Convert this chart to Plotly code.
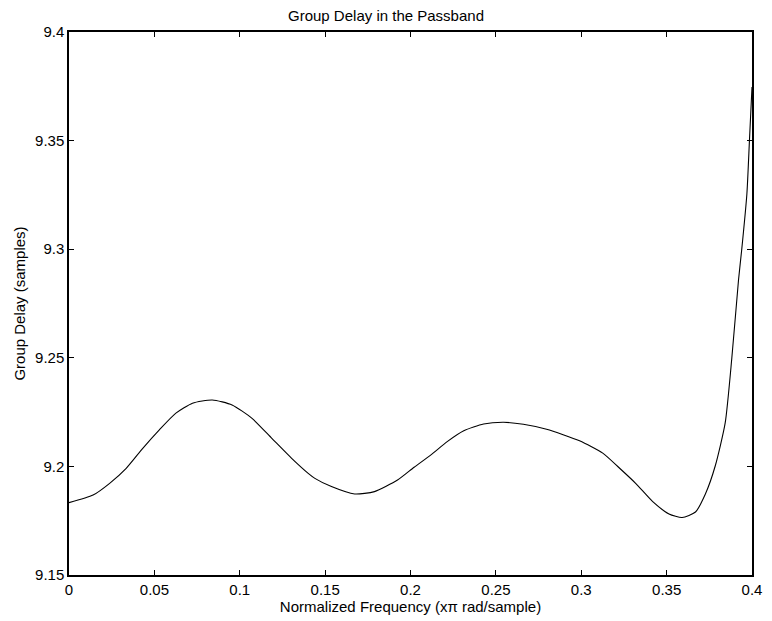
import plotly.graph_objects as go

freq = [0.0, 0.0141, 0.0238, 0.0335, 0.0432, 0.0529, 0.0626, 0.0723, 0.0839, 0.0955,
        0.1072, 0.1188, 0.1304, 0.1401, 0.1440, 0.1537, 0.1673, 0.1789, 0.1924, 0.2021,
        0.2118, 0.2215, 0.2312, 0.2428, 0.2545, 0.2661, 0.2797, 0.2990, 0.3126, 0.3220,
        0.3320, 0.3417, 0.3514, 0.3591, 0.3669, 0.3727, 0.3785, 0.3843, 0.3882, 0.3921,
        0.3940, 0.3970, 0.3985, 0.4000]
delay = [9.1833, 9.1868, 9.1922, 9.1991, 9.2083, 9.2168, 9.2245, 9.2291, 9.2306, 9.2283,
         9.2221, 9.2129, 9.2037, 9.1968, 9.1945, 9.1907, 9.1873, 9.1884, 9.1937, 9.1996,
         9.2052, 9.2114, 9.2164, 9.2195, 9.2203, 9.2194, 9.2171, 9.2118, 9.2061, 9.1995,
         9.1921, 9.1839, 9.1781, 9.1765, 9.1790, 9.1873, 9.2003, 9.2200, 9.2500, 9.2858,
         9.3000, 9.3254, 9.3500, 9.3747]

x_ticks = [0, 0.05, 0.1, 0.15, 0.2, 0.25, 0.3, 0.35, 0.4]
x_labels = ["0", "0.05", "0.1", "0.15", "0.2", "0.25", "0.3", "0.35", "0.4"]
y_ticks = [9.15, 9.2, 9.25, 9.3, 9.35, 9.4]
y_labels = ["9.15", "9.2", "9.25", "9.3", "9.35", "9.4"]

fig = go.Figure()
fig.add_trace(go.Scatter(x=freq, y=delay, mode="lines",
                         line=dict(color="black", width=1.1, shape="spline", smoothing=0.6),
                         showlegend=False, hoverinfo="skip"))

font = dict(family="Liberation Sans, Arial, sans-serif", size=15, color="black")
axis_common = dict(showline=True, linecolor="black", linewidth=1.5, mirror="ticks",
                   ticks="inside", ticklen=5, tickcolor="black", tickwidth=1,
                   showgrid=False, zeroline=False, tickfont=font)

fig.update_layout(
    width=772, height=621,
    margin=dict(l=69, r=10, t=32, b=46),
    paper_bgcolor="white", plot_bgcolor="white",
    font=font,
    title=dict(text="Group Delay in the Passband", x=0.5, xanchor="center",
               y=1 - 16 / 621, yanchor="middle", font=font),
    xaxis=dict(range=[0, 0.4], tickvals=x_ticks, ticktext=x_labels,
               title=dict(text="Normalized Frequency (xπ rad/sample)", font=font, standoff=1),
               **axis_common),
    yaxis=dict(range=[9.15, 9.4], tickvals=y_ticks, ticktext=y_labels,
               title=dict(text="Group Delay (samples)", font=font, standoff=6),
               **axis_common),
)

fig.write_html("out.html")
